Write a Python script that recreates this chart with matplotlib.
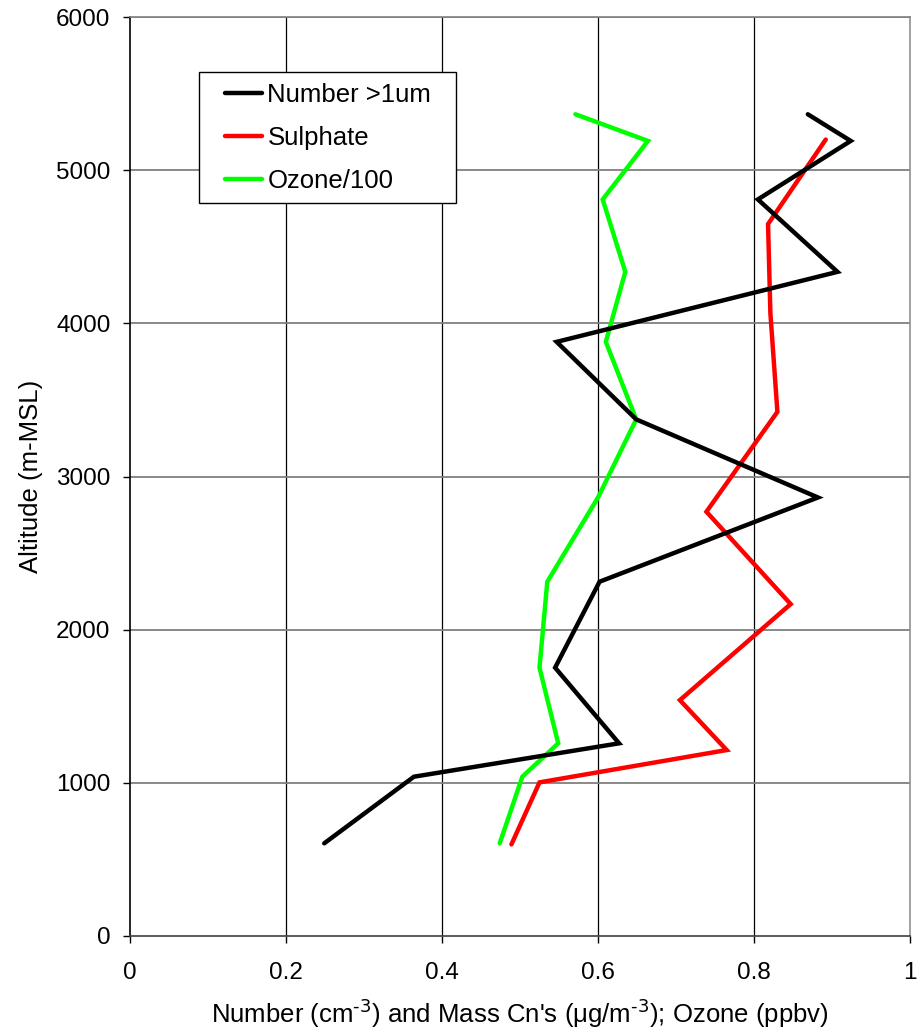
import matplotlib
matplotlib.use("Agg")
import matplotlib.pyplot as plt
from matplotlib.patches import Rectangle

plt.rcParams["font.family"] = ["Liberation Sans", "DejaVu Sans"]

# Profile altitudes (m-MSL) shared by the number and ozone series
alt_profile = [605, 1040, 1258, 1752, 2313, 2863, 3373, 3879, 4336, 4809, 5191, 5365]
number_gt1um = [0.249, 0.364, 0.627, 0.545, 0.602, 0.882, 0.649, 0.547, 0.907, 0.805, 0.924, 0.869]
ozone_div100 = [0.474, 0.503, 0.549, 0.525, 0.535, 0.600, 0.649, 0.610, 0.635, 0.606, 0.664, 0.571]

# Sulphate has its own sample altitudes
alt_sulphate = [598, 1003, 1214, 1540, 2167, 2770, 3422, 4067, 4648, 5200]
sulphate = [0.489, 0.525, 0.765, 0.705, 0.847, 0.739, 0.830, 0.821, 0.818, 0.892]

W, H = 917, 1031
fig = plt.figure(figsize=(W / 100, H / 100), dpi=100)
ax = fig.add_axes([130 / W, 95 / H, 780 / W, 919 / H])

lw = 3.2
ax.plot(number_gt1um, alt_profile, color="black", lw=lw, label="Number >1um",
        solid_capstyle="round", solid_joinstyle="miter", zorder=4)
ax.plot(sulphate, alt_sulphate, color="#ff0000", lw=lw, label="Sulphate",
        solid_capstyle="round", solid_joinstyle="miter", zorder=3)
ax.plot(ozone_div100, alt_profile, color="#00ff00", lw=lw, label="Ozone/100",
        solid_capstyle="round", solid_joinstyle="miter", zorder=3)

ax.set_xlim(0, 1)
ax.set_ylim(0, 6000)
ax.set_xticks([0, 0.2, 0.4, 0.6, 0.8, 1])
ax.set_xticklabels(["0", "0.2", "0.4", "0.6", "0.8", "1"])
ax.set_yticks(range(0, 6001, 1000))

# grid: black verticals, grey horizontals
for xv in [0.2, 0.4, 0.6, 0.8]:
    ax.axvline(xv, color="black", lw=0.9, zorder=1)
for yv in range(1000, 6001, 1000):
    ax.axhline(yv, color="#808080", lw=1.3, zorder=1)

ax.spines["left"].set_color("black")
ax.spines["bottom"].set_color("#404040")
ax.spines["right"].set_color("#909090")
ax.spines["top"].set_color("#808080")
for s in ax.spines.values():
    s.set_linewidth(1.2)

ax.tick_params(axis="both", direction="out", length=5, width=1, colors="black",
               labelsize=17.5)
ax.tick_params(axis="x", pad=14)
ax.tick_params(axis="y", pad=9)

ax.set_xlabel(r"Number (cm$^{\text{-3}}$) and Mass Cn's ($\mathregular{\mu}$g/m$^{\text{-3}}$); Ozone (ppbv)",
              fontsize=18.5, va="top")
ax.xaxis.set_label_coords(0.5, -0.066)
ax.set_ylabel("Altitude (m-MSL)", fontsize=18.5)
ax.yaxis.set_label_coords(-0.112, 0.5)

# legend box drawn separately so the padding can differ per side
ax.add_patch(Rectangle((0.0885, 0.7976), 0.3295, 0.1425, transform=ax.transAxes,
                       facecolor="white", edgecolor="black", lw=1.0, zorder=5))
leg = ax.legend(loc="upper left", bbox_to_anchor=(0.1218, 0.9285),
                fontsize=18.5, frameon=False, handlelength=1.45,
                handletextpad=0.2, labelspacing=0.75, borderpad=0,
                borderaxespad=0)
leg.set_zorder(6)

fig.savefig("out.png", dpi=100)
